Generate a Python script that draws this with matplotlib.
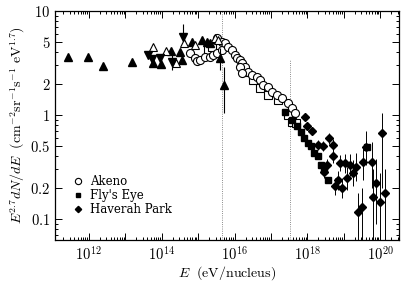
import numpy as np
import matplotlib
matplotlib.use('Agg')
import matplotlib.pyplot as plt
from matplotlib.ticker import FixedLocator, FuncFormatter, LogLocator, NullFormatter

plt.rcParams['font.family'] = 'DejaVu Serif'
plt.rcParams['mathtext.fontset'] = 'cm'

# log10(E) and E^2.7 dN/dE
tri_up_x = [11.42, 11.97, 12.38, 13.18, 13.76, 13.98, 14.25, 14.50, 14.55, 14.83, 15.10, 15.24, 15.32]
tri_up_y = [3.61, 3.61, 2.96, 3.23, 3.16, 3.09, 4.12, 4.03, 3.38, 5.03, 5.26, 5.03, 4.92]

tri_err_x = [15.60, 15.71]
tri_err_y = [3.53, 1.94]
tri_err_lo = [2.71, 1.04]
tri_err_hi = [4.41, 2.89]

tri_dn_x = [13.62, 13.73, 13.95, 14.28, 14.58]
tri_dn_y = [3.78, 3.45, 3.53, 3.23, 5.62]
tri_dn_lo = [3.78, 3.45, 3.53, 2.71, 4.71]
tri_dn_hi = [3.78, 3.45, 3.53, 3.78, 7.5]

tri_open_x = [13.76, 14.12, 14.39, 14.61, 14.91, 15.46, 15.54]
tri_open_y = [4.51, 4.12, 3.16, 4.92, 4.71, 5.50, 5.26]

sq_open_x = [15.27, 15.38, 16.29, 16.51, 16.70, 16.92, 17.19, 17.47, 17.58, 17.69]
sq_open_y = [4.22, 4.51, 2.59, 2.17, 1.82, 1.56, 1.39, 1.00, 0.857, 0.838]

akeno_x = [14.77, 14.91, 14.97, 15.05, 15.19, 15.32, 15.41, 15.52, 15.65,
           15.52, 15.65, 15.74, 15.82, 15.93, 16.01, 16.07, 16.15, 16.20, 16.29,
           16.37, 16.48, 16.62, 16.70, 16.78, 16.92, 17.03, 17.16, 17.30, 17.47,
           17.58, 17.66, 16.15, 16.20]
akeno_y = [3.95, 3.53, 3.31, 3.38, 3.61, 3.61, 3.78, 3.95, 4.22,
           5.50, 5.03, 4.92, 4.51, 4.22, 3.78, 3.53, 3.38, 3.16, 2.89,
           2.59, 2.42, 2.32, 2.17, 1.94, 1.86, 1.66, 1.56, 1.46, 1.30,
           1.17, 1.04, 2.89, 2.53]

fly_x = [17.38, 17.58, 17.71, 17.82, 17.91, 18.02, 18.10, 18.18, 18.29, 18.37, 18.46, 18.57, 19.64]
fly_y = [1.07, 0.895, 0.784, 0.687, 0.601, 0.538, 0.504, 0.431, 0.403, 0.330, 0.296, 0.237, 0.493]

hav_x = [17.93, 17.99, 18.13, 18.29, 18.43, 18.59, 18.70, 18.70, 18.54, 18.46,
         18.76, 18.95, 18.84, 18.90, 19.03, 19.17, 19.09, 19.25, 19.34, 19.39,
         19.50, 19.53, 19.61, 19.77, 19.80, 19.88, 19.99, 20.13, 20.05]
hav_y = [0.957, 0.784, 0.702, 0.515, 0.504, 0.601, 0.515, 0.403, 0.330, 0.283,
         0.208, 0.199, 0.237, 0.345, 0.345, 0.330, 0.248, 0.277, 0.316, 0.117,
         0.130, 0.353, 0.493, 0.353, 0.163, 0.222, 0.146, 0.178, 0.672]
hav_lo = [0.87, 0.72, 0.64, 0.46, 0.45, 0.53, 0.45, 0.35, 0.29, 0.25,
          0.17, 0.16, 0.19, 0.29, 0.28, 0.26, 0.19, 0.21, 0.23, 0.06,
          0.06, 0.24, 0.33, 0.20, 0.06, 0.09, 0.06, 0.06, 0.20]
hav_hi = [1.05, 0.85, 0.77, 0.57, 0.56, 0.68, 0.59, 0.46, 0.38, 0.32,
          0.25, 0.25, 0.29, 0.41, 0.42, 0.42, 0.32, 0.37, 0.43, 0.18,
          0.20, 0.50, 0.70, 0.55, 0.30, 0.38, 0.28, 0.30, 1.05]

knee_lines = [15.65, 17.52]

legend_names = ['Akeno', "Fly's Eye", 'Haverah Park']


def e(logs):
    return 10.0 ** np.array(logs)


def bars(y, lo, hi):
    y = np.array(y)
    return [y - np.array(lo), np.array(hi) - y]


fig = plt.figure(figsize=(4.14, 2.85), dpi=100)
ax = fig.add_axes([0.133, 0.158, 0.831, 0.803])
ax.set_xscale('log')
ax.set_yscale('log')
ax.set_xlim(10 ** 11.07, 10 ** 20.52)
ax.set_ylim(0.063, 10.0)

ax.axvline(10 ** knee_lines[0], color='0.4', lw=0.6, ls=':', zorder=1)
ax.plot([10 ** knee_lines[1]] * 2, [0.063, 3.5], color='0.4', lw=0.6, ls=':', zorder=1)

ms = 5.2
ax.errorbar(e(hav_x), hav_y, yerr=bars(hav_y, hav_lo, hav_hi), fmt='D', ms=4.2,
            color='k', ecolor='k', elinewidth=0.7, capsize=0, zorder=3)
ax.plot(e(fly_x), fly_y, 's', ms=4.2, color='k', zorder=3)
ax.plot(e(sq_open_x), sq_open_y, 's', ms=ms, mfc='white', mec='k', mew=0.8, zorder=2)
ax.plot(e(akeno_x), akeno_y, 'o', ms=5.8, mfc='white', mec='k', mew=0.8, zorder=2)
ax.plot(e(tri_up_x), tri_up_y, '^', ms=ms, color='k', zorder=3)
ax.errorbar(e(tri_err_x), tri_err_y, yerr=bars(tri_err_y, tri_err_lo, tri_err_hi),
            fmt='^', ms=ms, color='k', elinewidth=0.8, capsize=0, zorder=3)
ax.errorbar(e(tri_dn_x), tri_dn_y, yerr=bars(tri_dn_y, tri_dn_lo, tri_dn_hi),
            fmt='v', ms=ms, color='k', elinewidth=0.8, capsize=0, zorder=3)
ax.plot(e(tri_open_x), tri_open_y, '^', ms=ms, mfc='white', mec='k', mew=0.8, zorder=3)

# legend entries
h1, = ax.plot([], [], 'o', ms=4.5, mfc='white', mec='k', mew=0.8)
h2, = ax.plot([], [], 's', ms=3.2, color='k')
h3, = ax.plot([], [], 'D', ms=3.2, color='k')
ax.legend([h1, h2, h3], legend_names, loc='upper left', bbox_to_anchor=(0.03, 0.32),
          frameon=False, fontsize=8.5, handlelength=0.8, handletextpad=0.6,
          labelspacing=0.1, borderpad=0.2)

ax.xaxis.set_major_locator(LogLocator(base=10, numticks=20))
ax.xaxis.set_minor_locator(LogLocator(base=10, subs=np.arange(2, 10), numticks=20))


def xfmt(v, pos):
    n = int(round(np.log10(v)))
    return r'$10^{%d}$' % n if n % 2 == 0 else ''


ax.xaxis.set_major_formatter(FuncFormatter(xfmt))
ax.xaxis.set_minor_formatter(NullFormatter())

ylabels = [0.1, 0.2, 0.5, 1, 2, 5, 10]
ax.yaxis.set_major_locator(FixedLocator(ylabels))
ax.yaxis.set_major_formatter(FuncFormatter(lambda v, p: r'$%g$' % v))
ax.yaxis.set_minor_locator(LogLocator(base=10, subs=np.arange(2, 10), numticks=20))
ax.yaxis.set_minor_formatter(NullFormatter())

ax.tick_params(which='both', direction='in', top=True, right=True, labelsize=10.5, width=0.7)
ax.tick_params(which='major', length=5)
ax.tick_params(which='minor', length=2.5)
for s in ax.spines.values():
    s.set_linewidth(0.9)

ax.set_xlabel(r'$E\ \ (\mathrm{eV/nucleus})$', fontsize=10, labelpad=1)
ax.set_ylabel(r'$E^{2.7}dN/dE\ \ (\mathrm{cm}^{-2}\mathrm{sr}^{-1}\mathrm{s}^{-1}\ \mathrm{eV}^{1.7})$',
              fontsize=10, labelpad=2)

fig.savefig('out.png', dpi=100)
